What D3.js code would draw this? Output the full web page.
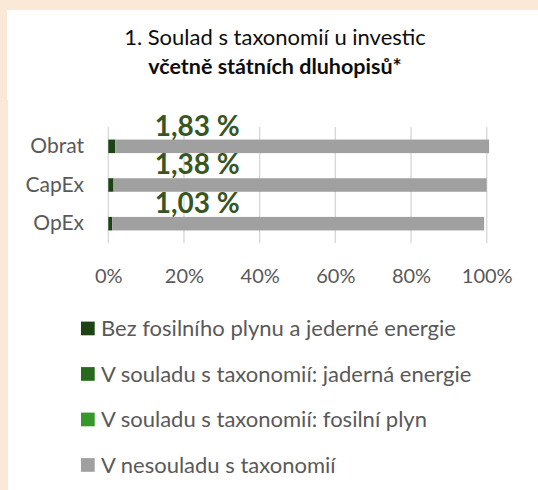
<!DOCTYPE html>
<html>
<head>
<meta charset="utf-8">
<script src="https://cdn.jsdelivr.net/npm/d3@7"></script>
<style>
  body { margin: 0; background: #fbe9d7; }
  svg { display: block; font-family: Lato, "Open Sans", sans-serif; }
</style>
</head>
<body>
<svg width="538" height="490"></svg>
<script>
// data
var categories = ["Obrat", "CapEx", "OpEx"];
var bezFosilJadro = [1.83, 1.38, 1.03];
var jadernaEnergie = [0, 0, 0];
var fosilniPlyn = [0, 0, 0];
var nesoulad = [98.8, 98.62, 98.3];
var valueLabels = ["1,83 %", "1,38 %", "1,03 %"];
var xTicks = [0, 20, 40, 60, 80, 100];

var seriesNames = [
    "Bez fosilního plynu a jederné energie",
    "V souladu s taxonomií: jaderná energie",
    "V souladu s taxonomií: fosilní plyn",
    "V nesouladu s taxonomií"
];
var seriesColors = ["#1b4314", "#27691d", "#37982a", "#a0a0a0"];
var seriesData = [bezFosilJadro, jadernaEnergie, fosilniPlyn, nesoulad];

var svg = d3.select("svg");

// background panel
svg.append("rect").attr("x", 7).attr("y", 10).attr("width", 531).attr("height", 480).attr("fill", "#fff");
svg.append("rect").attr("x", 7).attr("y", 100).attr("width", 1).attr("height", 390).attr("fill", "#fbe9d7");

// title
svg.append("text").attr("x", 275).attr("y", 45).attr("text-anchor", "middle")
    .attr("font-size", 22).attr("fill", "#0d0d0d")
    .text("1. Soulad s taxonomií u investic");
svg.append("text").attr("x", 275).attr("y", 74).attr("text-anchor", "middle")
    .attr("font-size", 21.5).attr("font-weight", "bold").attr("fill", "#0d0d0d")
    .text("včetně státních dluhopisů*");

// scales
var x = d3.scaleLinear().domain([0, 100]).range([108.3, 486.7]);
var y = d3.scaleBand().domain(categories).range([127, 243])
    .paddingInner(0.65).paddingOuter(0.325);

// gridlines
svg.append("g").selectAll("line")
    .data(xTicks).enter().append("line")
    .attr("x1", function(d) { return x(d); })
    .attr("x2", function(d) { return x(d); })
    .attr("y1", 127).attr("y2", 243)
    .attr("stroke", "#d9d9d9").attr("stroke-width", 1.4);

// stacked bars
var rows = categories.map(function(c, i) {
    var r = { cat: c };
    seriesData.forEach(function(s, k) { r["s" + k] = s[i]; });
    return r;
});
var stack = d3.stack().keys(seriesNames.map(function(d, k) { return "s" + k; }));
var layers = stack(rows);

svg.append("g").selectAll("g")
    .data(layers).enter().append("g")
    .attr("fill", function(d, k) { return seriesColors[k]; })
    .selectAll("rect")
    .data(function(d) { return d; }).enter().append("rect")
    .attr("x", function(d) { return x(d[0]); })
    .attr("width", function(d) { return x(d[1]) - x(d[0]); })
    .attr("y", function(d) { return y(d.data.cat); })
    .attr("height", y.bandwidth());

// value labels
svg.append("g").selectAll("text")
    .data(categories).enter().append("text")
    .attr("x", x(23.5))
    .attr("y", function(d) { return y(d) - 4; })
    .attr("text-anchor", "middle")
    .attr("font-size", 28).attr("font-weight", "bold").attr("fill", "#375623")
    .text(function(d, i) { return valueLabels[i]; });

// category axis
svg.append("g").selectAll("text")
    .data(categories).enter().append("text")
    .attr("x", 84)
    .attr("y", function(d) { return y(d) + 13.4; })
    .attr("text-anchor", "end")
    .attr("font-size", 21).attr("fill", "#595959")
    .text(function(d) { return d; });

// value axis
var xAxis = svg.append("g")
    .attr("transform", "translate(0,243)")
    .call(d3.axisBottom(x).tickValues(xTicks).tickSize(0).tickPadding(26)
        .tickFormat(function(d) { return d + "%"; }));
xAxis.select(".domain").remove();
xAxis.selectAll("text")
    .attr("font-family", "Lato, sans-serif")
    .attr("font-size", 20).attr("fill", "#595959");

// legend
var legend = svg.append("g").selectAll("g")
    .data(seriesNames).enter().append("g")
    .attr("transform", function(d, i) { return "translate(81," + (321.6 + i * 45.5) + ")"; });
legend.append("rect")
    .attr("width", 13.7).attr("height", 13.7)
    .attr("fill", function(d, i) { return seriesColors[i]; });
legend.append("text")
    .attr("x", 20).attr("y", 14.6)
    .attr("font-size", 22).attr("fill", "#595959")
    .text(function(d) { return d; });
</script>
</body>
</html>
